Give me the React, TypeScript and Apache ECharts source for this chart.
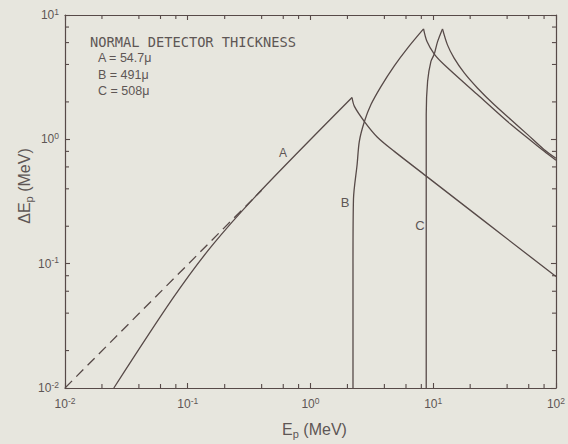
import React, { useEffect, useRef } from "react";
import * as echarts from "echarts";

// ---- data ----
const X_MIN = 0.01;
const X_MAX = 100;
const Y_MIN = 0.01;
const Y_MAX = 10;

const xMinorTicks = [0.02, 0.04, 0.06, 0.08, 0.2, 0.4, 0.6, 0.8, 2, 4, 6, 8, 20, 40, 60, 80];
const yMinorTicks = [0.02, 0.04, 0.06, 0.08, 0.2, 0.4, 0.6, 0.8, 2, 4, 6, 8];

// dashed extrapolation (ΔE = E)
const dashedE = [0.01, 0.4];
const dashedDE = [0.01, 0.39];

// curve A (54.7 µ): rising branch, then falling branch from the peak
const curveARiseE = [0.025, 0.0755, 0.157, 0.385, 2.18];
const curveARiseDE = [0.01, 0.0525, 0.139, 0.377, 2.17];
const curveAFallE = [2.18, 2.28, 2.75, 3.51, 4.82, 8.77, 100];
const curveAFallDE = [2.17, 1.84, 1.39, 1.04, 0.8, 0.506, 0.0787];

// curve B (491 µ)
const curveBRiseE = [2.22, 2.22, 2.24, 2.4, 2.5, 2.75, 3.11, 3.76, 4.82, 6.18, 8.34];
const curveBRiseDE = [0.01, 0.1, 0.33, 0.63, 0.964, 1.39, 1.905, 2.67, 3.9, 5.42, 7.73];
const curveBFallE = [8.34, 8.9, 10.2, 12.3, 22.9, 42.8, 79.8, 100];
const curveBFallDE = [7.73, 6.11, 4.85, 3.98, 2.29, 1.32, 0.806, 0.68];

// curve C (508 µ)
const curveCRiseE = [8.77, 8.77, 8.77, 9.0, 9.58, 10.2, 10.85, 11.9];
const curveCRiseDE = [0.01, 0.5, 1.58, 2.93, 4.23, 4.85, 6.11, 7.73];
const curveCFallE = [11.9, 13.06, 14.8, 17.9, 22.9, 31.3, 42.8, 58.5, 79.8, 100];
const curveCFallDE = [7.73, 5.75, 4.5, 3.42, 2.59, 1.905, 1.445, 1.096, 0.83, 0.705];

const legendTitle = "NORMAL DETECTOR THICKNESS";
const legendLines = ["A = 54.7\u03bc", "B = 491\u03bc", "C = 508\u03bc"];

const INK = "#574a48";
const TEXT = "#5e5655";
const BG = "#e7e6de";
const FONT = "Liberation Sans";

const pairs = (xs: number[], ys: number[]) => xs.map((x, i) => [x, ys[i]]);

const supLabel = (value: number) => {
  const e = Math.round(Math.log10(value));
  return `{b|10}{s|${e}}`;
};

const labelRich = {
  b: { fontSize: 12, fontFamily: FONT, color: TEXT },
  s: { fontSize: 8.5, fontFamily: FONT, color: TEXT, verticalAlign: "top", padding: [0, 0, 7, 0] },
};

export default function App() {
  const ref = useRef<HTMLDivElement>(null);

  useEffect(() => {
    if (!ref.current) return;
    const chart = echarts.init(ref.current, undefined, { renderer: "svg" });

    const tickSeries = (vals: number[], isX: boolean) => ({
      type: "custom",
      coordinateSystem: "cartesian2d",
      xAxisIndex: 0,
      yAxisIndex: 0,
      silent: true,
      clip: false,
      z: 5,
      data: vals.map((v) => (isX ? [v, Y_MIN] : [X_MIN, v])),
      renderItem: (params: any, api: any) => {
        const v = isX ? api.value(0) : api.value(1);
        const st = { stroke: INK, lineWidth: 1.1, fill: null };
        const L = 4;
        if (isX) {
          const b = api.coord([v, Y_MIN]);
          const t = api.coord([v, Y_MAX]);
          return {
            type: "group",
            children: [
              { type: "line", shape: { x1: b[0], y1: b[1], x2: b[0], y2: b[1] - L }, style: st },
              { type: "line", shape: { x1: t[0], y1: t[1], x2: t[0], y2: t[1] + L }, style: st },
            ],
          };
        }
        const l = api.coord([X_MIN, v]);
        const r = api.coord([X_MAX, v]);
        return {
          type: "group",
          children: [
            { type: "line", shape: { x1: l[0], y1: l[1], x2: l[0] + L, y2: l[1] }, style: st },
            { type: "line", shape: { x1: r[0], y1: r[1], x2: r[0] - L, y2: r[1] }, style: st },
          ],
        };
      },
    });

    const lineSeries = (name: string, data: number[][], dashed = false, smooth: number | boolean = false) => ({
      name,
      type: "line",
      data,
      xAxisIndex: 0,
      yAxisIndex: 0,
      showSymbol: false,
      symbol: "none",
      smooth,
      lineStyle: { color: INK, width: 1.3, type: dashed ? [10, 6] : "solid" },
      z: 4,
    });

    const axisCommon = {
      type: "log",
      logBase: 10,
      axisLine: { show: true, onZero: false, lineStyle: { color: INK, width: 1.2 } },
      axisTick: { show: true, inside: true, length: 5, lineStyle: { color: INK, width: 1.1 } },
      splitLine: { show: false },
      minorTick: { show: false },
    };

    chart.setOption({
      animation: false,
      backgroundColor: BG,
      grid: { left: 65, right: 11, top: 15, bottom: 54, containLabel: false },
      xAxis: [
        {
          ...axisCommon,
          position: "bottom",
          min: X_MIN,
          max: X_MAX,
          axisLabel: {
            show: true,
            margin: 8,
            formatter: supLabel,
            rich: labelRich,
          },
          name: "E{sub|p} (MeV)",
          nameLocation: "middle",
          nameGap: 31,
          nameTextStyle: {
            fontSize: 16,
            fontFamily: FONT,
            color: TEXT,
            padding: [0, 0, 0, 8],
            rich: {
              sub: { fontSize: 11, fontFamily: FONT, color: TEXT, verticalAlign: "bottom", padding: [9, 0, 0, 0] },
            },
          },
        },
        {
          ...axisCommon,
          position: "top",
          min: X_MIN,
          max: X_MAX,
          axisLabel: { show: false },
        },
      ],
      yAxis: [
        {
          ...axisCommon,
          position: "left",
          min: Y_MIN,
          max: Y_MAX,
          axisLabel: {
            show: true,
            margin: 6,
            formatter: supLabel,
            rich: labelRich,
          },
        },
        {
          ...axisCommon,
          position: "right",
          min: Y_MIN,
          max: Y_MAX,
          axisLabel: { show: false },
        },
      ],
      graphic: [
        {
          type: "text",
          x: 24,
          y: 186,
          rotation: Math.PI / 2,
          style: {
            text: "\u0394E{sub|p} (MeV)",
            fontSize: 16,
            fontFamily: FONT,
            fill: TEXT,
            align: "center",
            verticalAlign: "middle",
            rich: {
              sub: { fontSize: 11, fontFamily: FONT, fill: TEXT, verticalAlign: "bottom", padding: [9, 0, 0, 0] },
            },
          },
        },
        {
          type: "text",
          x: 90,
          y: 42,
          style: {
            text: legendTitle,
            fontSize: 13.7,
            fontFamily: "DejaVu Sans Mono",
            fill: TEXT,
            align: "left",
            verticalAlign: "middle",
          },
        },
        ...legendLines.map((t, i) => ({
          type: "text",
          x: 98,
          y: 58 + i * 16.5,
          style: {
            text: t,
            fontSize: 12.5,
            fontFamily: FONT,
            fill: TEXT,
            align: "left",
            verticalAlign: "middle",
          },
        })),
        {
          type: "text",
          x: 283,
          y: 153,
          style: { text: "A", fontSize: 12, fontFamily: FONT, fill: TEXT, align: "center", verticalAlign: "middle" },
        },
        {
          type: "text",
          x: 345,
          y: 202,
          style: { text: "B", fontSize: 13, fontFamily: FONT, fill: TEXT, align: "center", verticalAlign: "middle" },
        },
        {
          type: "text",
          x: 420,
          y: 225,
          style: { text: "C", fontSize: 13, fontFamily: FONT, fill: TEXT, align: "center", verticalAlign: "middle" },
        },
      ],
      series: [
        lineSeries("dashed", pairs(dashedE, dashedDE), true),
        lineSeries("A", pairs(curveARiseE, curveARiseDE), false, 0.3),
        lineSeries("A", pairs(curveAFallE, curveAFallDE), false, 0.3),
        lineSeries("B", pairs(curveBRiseE, curveBRiseDE), false, 0.3),
        lineSeries("B", pairs(curveBFallE, curveBFallDE), false, 0.3),
        lineSeries("C", pairs(curveCRiseE, curveCRiseDE), false, 0.3),
        lineSeries("C", pairs(curveCFallE, curveCFallDE), false, 0.3),
        tickSeries(xMinorTicks, true),
        tickSeries(yMinorTicks, false),
      ],
    });

    return () => chart.dispose();
  }, []);

  return (
    <div
      ref={ref}
      style={{ position: "absolute", left: 0, top: 0, width: 568, height: 444 }}
    />
  );
}
